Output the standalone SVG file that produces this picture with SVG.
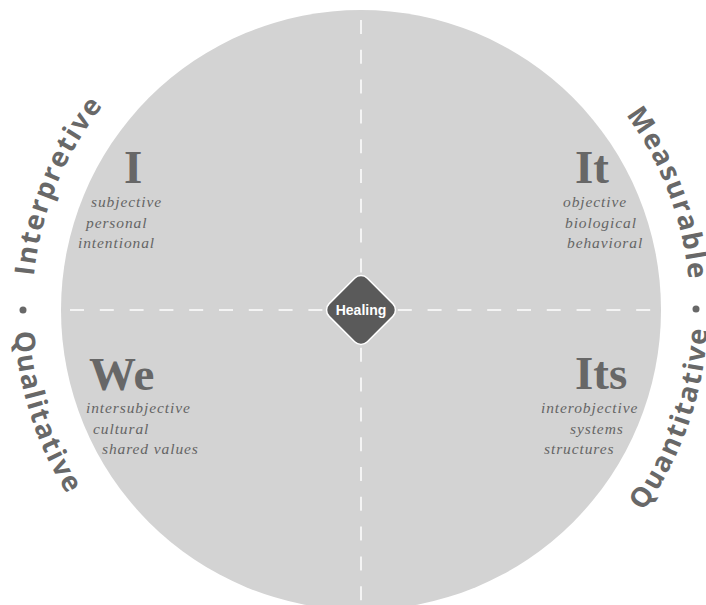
<svg xmlns="http://www.w3.org/2000/svg" xmlns:xlink="http://www.w3.org/1999/xlink" width="706" height="605" viewBox="0 0 706 605">
  <style>
    .disc { fill: #d3d3d3; }
    .axis { stroke: #f4f4f4; stroke-width: 2; stroke-dasharray: 14 15.8; fill: none; }
    .big { font-family: "Liberation Serif", "DejaVu Serif", serif; font-weight: bold; font-size: 47px; fill: #676767; }
    .sub { font-family: "Liberation Serif", "DejaVu Serif", serif; font-style: italic; font-size: 15.5px; letter-spacing: 0.9px; fill: #656565; }
    .rim { font-family: "Open Sans", "DejaVu Sans", sans-serif; font-weight: bold; font-size: 27.5px; letter-spacing: 1.8px; fill: #686868; }
    .hub-shape { fill: #5a5a5a; stroke: #ffffff; stroke-width: 1.5; }
    .hub-text { font-family: "Liberation Sans", Arial, sans-serif; font-weight: bold; font-size: 14px; fill: #ffffff; }
    .sep { fill: #686868; }
  </style>
  <defs>
    <!-- baseline arcs for the rim words: upper reads clockwise, lower reads counter-clockwise -->
    <path id="arc-upper" d="M 32 310 A 329 329 0 0 1 690 310"/>
    <path id="arc-lower" d="M 14 310 A 347 347 0 0 0 708 310"/>
  </defs>

  <circle class="disc" cx="361" cy="310" r="300"/>

  <g id="connectors">
    <line class="axis" x1="70" y1="310" x2="662" y2="310"/>
    <line class="axis" x1="361" y1="20" x2="361" y2="605"/>
  </g>

  <g id="rim-labels">
    <text class="rim"><textPath xlink:href="#arc-upper" href="#arc-upper" startOffset="34">Interpretive</textPath></text>
    <text class="rim" text-anchor="end"><textPath xlink:href="#arc-upper" href="#arc-upper" startOffset="1004">Measurable</textPath></text>
    <text class="rim"><textPath xlink:href="#arc-lower" href="#arc-lower" startOffset="22">Qualitative</textPath></text>
    <text class="rim" text-anchor="end"><textPath xlink:href="#arc-lower" href="#arc-lower" startOffset="1072">Quantitative</textPath></text>
    <circle class="sep" cx="23" cy="310" r="3.5"/>
    <circle class="sep" cx="696" cy="309" r="3.5"/>
  </g>

  <g id="quadrant-I">
    <text class="big" x="124" y="183">I</text>
    <text class="sub" x="91" y="207">subjective</text>
    <text class="sub" x="86" y="228">personal</text>
    <text class="sub" x="78" y="248">intentional</text>
  </g>

  <g id="quadrant-It">
    <text class="big" x="575" y="183">It</text>
    <text class="sub" x="563" y="207">objective</text>
    <text class="sub" x="565" y="228">biological</text>
    <text class="sub" x="567" y="248">behavioral</text>
  </g>

  <g id="quadrant-We">
    <text class="big" x="89" y="390">We</text>
    <text class="sub" x="86" y="413">intersubjective</text>
    <text class="sub" x="93" y="434">cultural</text>
    <text class="sub" x="102" y="454">shared values</text>
  </g>

  <g id="quadrant-Its">
    <text class="big" x="575" y="389">Its</text>
    <text class="sub" x="541" y="413">interobjective</text>
    <text class="sub" x="570" y="434">systems</text>
    <text class="sub" x="544" y="454">structures</text>
  </g>

  <g id="healing">
    <rect class="hub-shape" x="-27" y="-27" width="54" height="54" rx="9" transform="translate(361 310) rotate(45)"/>
    <text class="hub-text" x="361" y="315" text-anchor="middle">Healing</text>
  </g>
</svg>
